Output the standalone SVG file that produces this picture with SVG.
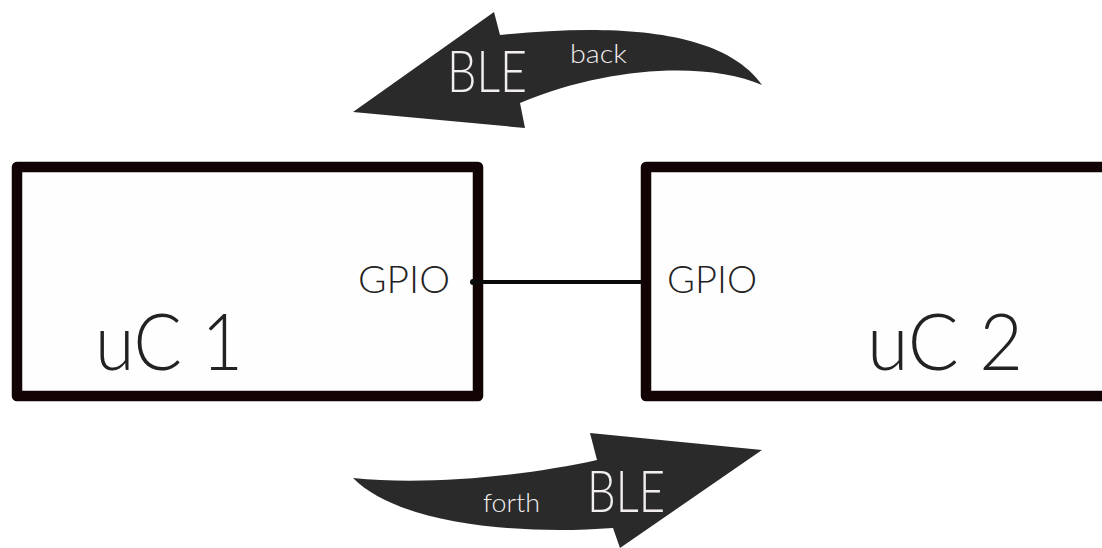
<svg xmlns="http://www.w3.org/2000/svg" width="1102" height="548" viewBox="0 0 1102 548">
<style>
.box{fill:#fefefe;stroke:#120404;stroke-width:10.5;stroke-linejoin:round}
.arr{fill:#2a2a2a}
.t{font-family:Lato,"Open Sans","Liberation Sans",sans-serif;font-weight:300;fill:#222}
.w{font-family:Lato,"Open Sans","Liberation Sans",sans-serif;font-weight:300;fill:#f2eeee}
</style>
<rect width="1102" height="548" fill="#ffffff"/>
<g id="arrow-back">
<path class="arr" d="M353,112 L494,12 L500,35 C600,25 720,25 762,85 C710,62 610,65 520,103 L525,128 Z"/>
<text class="w" x="447" y="92" font-size="58" textLength="80" lengthAdjust="spacingAndGlyphs">BLE</text>
<text class="w" x="570" y="63" font-size="25" textLength="57" lengthAdjust="spacingAndGlyphs">back</text>
</g>
<g id="arrow-forth">
<path class="arr" d="M353,478 C430,486 530,475 597,460 L590,433 L762,450 L620,548 L613,528 C520,535 400,525 353,478 Z"/>
<text class="w" x="483" y="512" font-size="25" textLength="57" lengthAdjust="spacingAndGlyphs">forth</text>
<text class="w" x="587" y="512" font-size="58" textLength="78" lengthAdjust="spacingAndGlyphs">BLE</text>
</g>
<g id="uc1">
<rect class="box" x="17" y="167" width="461" height="229"/>
<text class="t" x="358" y="293" font-size="38" textLength="92" lengthAdjust="spacingAndGlyphs">GPIO</text>
<text class="t" x="95" y="370" font-size="79" textLength="148" lengthAdjust="spacingAndGlyphs">uC 1</text>
</g>
<g id="uc2">
<rect class="box" x="646" y="167" width="470" height="229"/>
<text class="t" x="667" y="293" font-size="38" textLength="90" lengthAdjust="spacingAndGlyphs">GPIO</text>
<text class="t" x="867" y="370" font-size="79" textLength="156" lengthAdjust="spacingAndGlyphs">uC 2</text>
</g>
<g id="connectors">
<line x1="473" y1="282" x2="642" y2="282" stroke="#0a0a0a" stroke-width="4"/>
<circle cx="473" cy="282" r="3" fill="#0a0a0a"/>
</g>
</svg>
